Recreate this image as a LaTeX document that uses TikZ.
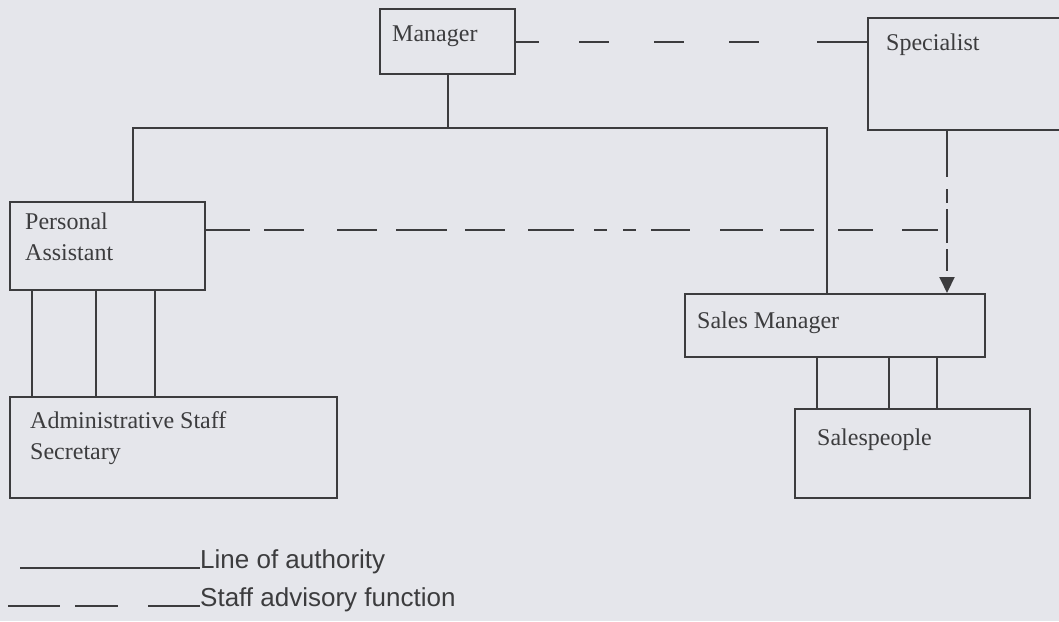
\documentclass[tikz,border=0pt]{standalone}
\usepackage{fontspec}
\setmainfont{Liberation Serif}
\newfontfamily\legendfont{Liberation Sans}
\usetikzlibrary{arrows.meta}
\definecolor{paper}{RGB}{229,230,235}
\definecolor{ink}{RGB}{60,60,62}
\tikzset{
  box/.style={draw=ink, line width=2pt, inner sep=0pt},
  lbl/.style={inner sep=0pt, text=ink, font=\fontsize{24}{31}\selectfont},
  auth/.style={draw=ink, line width=2pt},
  staff/.style={draw=ink, line width=2pt, dash pattern=on 30pt off 45pt},
}
\begin{document}
\begin{tikzpicture}[x=1pt,y=-1pt]
	\fill[paper] (0,0) rectangle (1059,621);
	\useasboundingbox (0,0) rectangle (1059,621);

	% boxes
	\node[box, minimum width=135pt, minimum height=65pt] (manager) at (447.5,41.5) {};
	\node[box, minimum width=194pt, minimum height=112pt] (spec) at (965,74) {};
	\node[box, minimum width=195pt, minimum height=88pt] (pa) at (107.5,246) {};
	\node[box, minimum width=327pt, minimum height=101pt] (admin) at (173.5,447.5) {};
	\node[box, minimum width=300pt, minimum height=63pt] (sm) at (835,325.5) {};
	\node[box, minimum width=235pt, minimum height=89pt] (sales) at (912.5,453.5) {};

	% texts
	\node[lbl, anchor=base west] (managerT) at (392,41) {Manager};
	\node[lbl, anchor=base west] (specT) at (886,50) {Specialist};
	\node[lbl, anchor=north west, align=left] (paT) at (25,213) {Personal\\Assistant};
	\node[lbl, anchor=north west, align=left] (adminT) at (30,411) {Administrative Staff\\Secretary};
	\node[lbl, anchor=base west] (smT) at (697,328) {Sales Manager};
	\node[lbl, anchor=base west] (salesT) at (817,445) {Salespeople};

	% line of authority
	\coordinate (barL) at (133,128);
	\coordinate (barR) at (827,128);
	\draw[auth] (manager.south) -- (manager.south |- barL);
	\draw[auth] (barL |- pa.north) -- (barL) -- (barR) -- (barR |- sm.north);
	\foreach \x in {32,96,155}
		\draw[auth] (\x,0 |- pa.south) -- (\x,0 |- admin.north);
	\foreach \x in {817,889,937}
		\draw[auth] (\x,0 |- sm.south) -- (\x,0 |- sales.north);

	% staff advisory
	\coordinate (join) at (947,230);
	\draw[staff, dash pattern=on 23pt off 40pt on 30pt off 45pt on 30pt off 45pt on 30pt off 58pt on 60pt]
		(manager.east) -- (spec.west |- manager.east);
	\draw[staff, dash pattern=on 44pt off 14pt on 40pt off 33pt on 40pt off 19pt on 51pt off 18pt on 40pt off 23pt
		on 46pt off 20pt on 13pt off 16pt on 13pt off 15pt on 39pt off 30pt on 43pt off 17pt on 34pt off 24pt
		on 35pt off 29pt on 36pt off 20pt] (pa.east |- join) -- (join);
	\draw[staff, dash pattern=on 46pt off 12pt on 14pt off 6pt on 34pt off 6pt on 22pt off 30pt,
		-{Triangle[length=16pt,width=15pt]}] (spec.south -| join) -- (sm.north -| join);

	% legend
	\node[lbl, anchor=base west, font=\legendfont\fontsize{26}{31}\selectfont] (authT) at (200,568) {Line of authority};
	\node[lbl, anchor=base west, font=\legendfont\fontsize{26}{31}\selectfont] (advT) at (200,606) {Staff advisory function};
	\coordinate (leg1) at (20,568);
	\coordinate (leg2) at (8,606);
	\draw[auth] (leg1) -- (authT.base west);
	\draw[staff, dash pattern=on 52pt off 15pt on 43pt off 30pt on 60pt] (leg2) -- (advT.base west);
\end{tikzpicture}
\end{document}
